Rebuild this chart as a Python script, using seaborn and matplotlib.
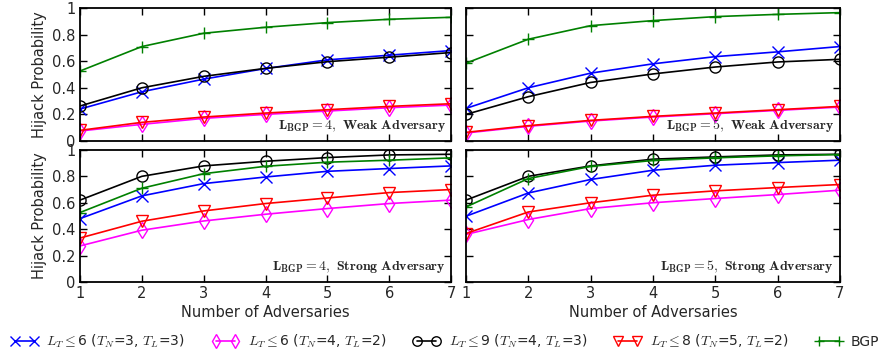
import numpy as np
import pandas as pd
import matplotlib
matplotlib.use("Agg")
import matplotlib.pyplot as plt
import seaborn as sns

adversaries = [1, 2, 3, 4, 5, 6, 7]

series_names = [
    r"$L_T$$\leq$6 ($T_N$=3, $T_L$=3)",
    r"$L_T$$\leq$6 ($T_N$=4, $T_L$=2)",
    r"$L_T$$\leq$9 ($T_N$=4, $T_L$=3)",
    r"$L_T$$\leq$8 ($T_N$=5, $T_L$=2)",
    "BGP",
]
series_colors = ["blue", "magenta", "black", "red", "green"]
series_markers = ["x", "d", "o", "v", "+"]

# L_BGP = 4, weak adversary
w4_blue = [0.24, 0.37, 0.465, 0.545, 0.61, 0.645, 0.68]
w4_magenta = [0.075, 0.125, 0.17, 0.20, 0.225, 0.25, 0.27]
w4_black = [0.263, 0.40, 0.486, 0.546, 0.596, 0.63, 0.665]
w4_red = [0.08, 0.14, 0.18, 0.21, 0.235, 0.26, 0.28]
w4_bgp = [0.526, 0.71, 0.81, 0.855, 0.89, 0.915, 0.93]

# L_BGP = 5, weak adversary
w5_blue = [0.245, 0.40, 0.51, 0.58, 0.634, 0.67, 0.71]
w5_magenta = [0.06, 0.11, 0.15, 0.18, 0.205, 0.23, 0.255]
w5_black = [0.20, 0.333, 0.44, 0.504, 0.556, 0.594, 0.614]
w5_red = [0.065, 0.115, 0.155, 0.185, 0.21, 0.235, 0.26]
w5_bgp = [0.585, 0.765, 0.867, 0.905, 0.935, 0.952, 0.965]

# L_BGP = 4, strong adversary
s4_blue = [0.48, 0.652, 0.745, 0.795, 0.838, 0.859, 0.879]
s4_magenta = [0.273, 0.392, 0.462, 0.513, 0.556, 0.594, 0.62]
s4_black = [0.62, 0.80, 0.879, 0.914, 0.942, 0.962, 0.967]
s4_red = [0.333, 0.46, 0.538, 0.594, 0.636, 0.677, 0.70]
s4_bgp = [0.526, 0.71, 0.82, 0.876, 0.907, 0.922, 0.94]

# L_BGP = 5, strong adversary
s5_blue = [0.498, 0.674, 0.776, 0.846, 0.884, 0.904, 0.922]
s5_magenta = [0.36, 0.473, 0.556, 0.60, 0.632, 0.662, 0.695]
s5_black = [0.62, 0.80, 0.879, 0.93, 0.947, 0.962, 0.967]
s5_red = [0.367, 0.53, 0.60, 0.657, 0.69, 0.715, 0.738]
s5_bgp = [0.568, 0.783, 0.875, 0.92, 0.94, 0.955, 0.965]

panels = [
    ([w4_blue, w4_magenta, w4_black, w4_red, w4_bgp], "4", "Weak"),
    ([w5_blue, w5_magenta, w5_black, w5_red, w5_bgp], "5", "Weak"),
    ([s4_blue, s4_magenta, s4_black, s4_red, s4_bgp], "4", "Strong"),
    ([s5_blue, s5_magenta, s5_black, s5_red, s5_bgp], "5", "Strong"),
]

sns.set_theme(style="ticks")
plt.rcParams["font.family"] = ["DejaVu Sans"]
plt.rcParams["mathtext.fontset"] = "cm"
plt.rcParams["xtick.direction"] = "in"
plt.rcParams["ytick.direction"] = "in"

fig = plt.figure(figsize=(8.9, 3.56), dpi=100)
positions = [
    [0.0899, 0.604, 0.417, 0.3736],
    [0.5236, 0.604, 0.420, 0.3736],
    [0.0899, 0.2079, 0.417, 0.371],
    [0.5236, 0.2079, 0.420, 0.371],
]

axes = []
for i, (vals, lbgp, kind) in enumerate(panels):
    ax = fig.add_axes(positions[i])
    axes.append(ax)
    for name, v, c, m in zip(series_names, vals, series_colors, series_markers):
        df = pd.DataFrame({"x": adversaries, "y": v})
        sns.lineplot(data=df, x="x", y="y", ax=ax, color=c, marker=m,
                     mfc="none", mec=c, mew=1.0, ms=8, lw=1.2, label=name,
                     legend=False)
    ax.set_xlim(1, 7)
    ax.set_ylim(0, 1)
    ax.set_xticks(adversaries)
    ax.set_yticks([0, 0.2, 0.4, 0.6, 0.8, 1.0])
    ax.set_yticklabels(["0", "0.2", "0.4", "0.6", "0.8", "1"])
    ax.tick_params(top=True, right=True, length=5, width=1, labelsize=10.5,
                   color="black", pad=3)
    for sp in ax.spines.values():
        sp.set_linewidth(1.3)
        sp.set_color("black")
    if i % 2 == 0:
        ax.set_ylabel("Hijack Probability", fontsize=10.5)
    else:
        ax.set_ylabel("")
        ax.set_yticklabels([])
    if i >= 2:
        ax.set_xlabel("Number of Adversaries", fontsize=10.5, labelpad=3)
    else:
        ax.set_xlabel("")
        ax.set_xticklabels([])
    ax.text(0.985, 0.05,
            r"$\mathbf{L_{BGP}=}$" + r"$" + lbgp + r"$" + r"$\mathbf{,\ " + kind + r"\ Adversary}$",
            transform=ax.transAxes, ha="right", va="bottom", fontsize=10)

handles, labels = axes[0].get_legend_handles_labels()
fig.legend(handles, labels, loc="center", bbox_to_anchor=(0.5, 0.04), ncol=5,
           frameon=False, fontsize=10, numpoints=2, handlelength=2.0,
           columnspacing=1.9, handletextpad=0.6, borderaxespad=0,
           markerscale=0.85)

fig.savefig("out.png", dpi=100)
